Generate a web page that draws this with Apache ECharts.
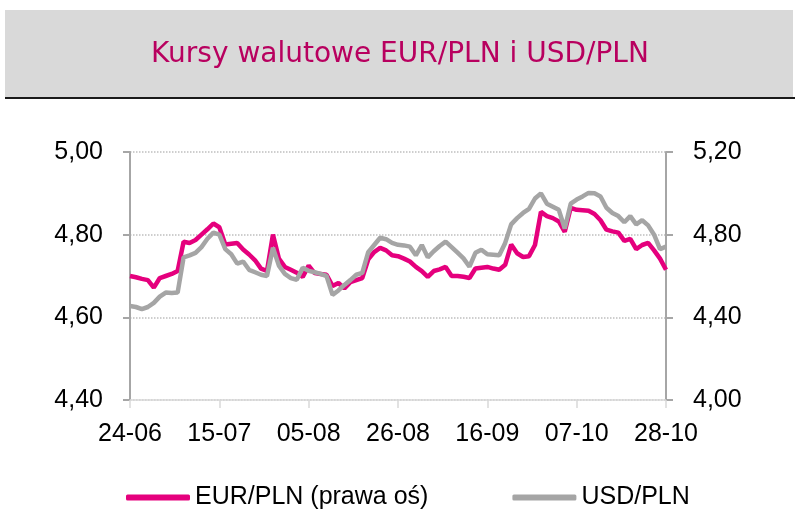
<!DOCTYPE html>
<html>
<head>
<meta charset="utf-8">
<script src="https://cdn.jsdelivr.net/npm/echarts@6/dist/echarts.min.js"></script>
<style>
  html, body { margin: 0; padding: 0; background: #fff; }
  #chart { width: 800px; height: 527px; }
</style>
</head>
<body>
<div id="chart"></div>
<script>
// dni robocze od 24-06 do 28-10
const startDate = Date.UTC(2024, 5, 24);
const dayCount = 91;
const dates = [];
for (let t = startDate; dates.length < dayCount; t += 86400000) {
  const d = new Date(t);
  const wd = d.getUTCDay();
  if (wd === 0 || wd === 6) continue;
  dates.push(String(d.getUTCDate()).padStart(2, '0') + '-' + String(d.getUTCMonth() + 1).padStart(2, '0'));
}

// EUR/PLN - lewa skala
const eurpln = [
  4.700, 4.697, 4.693, 4.690, 4.672, 4.695, 4.700, 4.705, 4.712, 4.783,
  4.780, 4.787, 4.800, 4.813, 4.827, 4.818, 4.776, 4.778, 4.780, 4.764,
  4.752, 4.738, 4.718, 4.712, 4.800, 4.742, 4.722, 4.715, 4.708, 4.698,
  4.725, 4.707, 4.705, 4.703, 4.676, 4.683, 4.670, 4.685, 4.690, 4.695,
  4.740, 4.758, 4.768, 4.762, 4.750, 4.748, 4.742, 4.735, 4.722, 4.712,
  4.698, 4.712, 4.716, 4.722, 4.700, 4.700, 4.698, 4.695, 4.718, 4.720,
  4.722, 4.718, 4.715, 4.727, 4.776, 4.755, 4.746, 4.748, 4.775, 4.855,
  4.845, 4.840, 4.832, 4.807, 4.865, 4.860, 4.859, 4.858, 4.850, 4.835,
  4.812, 4.808, 4.805, 4.785, 4.790, 4.765, 4.775, 4.780, 4.762, 4.742,
  4.715
];

// USD/PLN - prawa skala
const usdpln = [
  4.455, 4.450, 4.440, 4.450, 4.470, 4.500, 4.520, 4.518, 4.520, 4.690,
  4.700, 4.712, 4.740, 4.780, 4.810, 4.800, 4.730, 4.705, 4.660, 4.670,
  4.630, 4.618, 4.606, 4.600, 4.737, 4.650, 4.610, 4.590, 4.582, 4.640,
  4.625, 4.618, 4.610, 4.600, 4.509, 4.530, 4.557, 4.580, 4.606, 4.615,
  4.715, 4.750, 4.785, 4.778, 4.760, 4.751, 4.748, 4.742, 4.700, 4.750,
  4.690, 4.720, 4.745, 4.766, 4.740, 4.713, 4.685, 4.645, 4.712, 4.727,
  4.705, 4.703, 4.700, 4.760, 4.850, 4.880, 4.905, 4.925, 4.975, 5.000,
  4.950, 4.935, 4.920, 4.830, 4.950, 4.970, 4.985, 5.002, 5.000, 4.985,
  4.930, 4.905, 4.890, 4.860, 4.890, 4.850, 4.870, 4.845, 4.800, 4.730,
  4.742
];

const font = 'Liberation Sans';
const fmt = v => v.toFixed(2).replace('.', ',');

const myChart = echarts.init(document.getElementById('chart'));
myChart.setOption({
  animation: false,
  backgroundColor: '#fff',
  graphic: [
    { type: 'rect', z: -1, shape: { x: 5, y: 10, width: 788, height: 87 }, style: { fill: '#d9d9d9' } },
    { type: 'line', z: -1, shape: { x1: 5, y1: 98, x2: 795, y2: 98 }, style: { stroke: '#1a1a1a', lineWidth: 2 } }
  ],
  title: {
    text: 'Kursy walutowe EUR/PLN i USD/PLN',
    left: 'center',
    top: 36,
    textStyle: { fontFamily: 'DejaVu Sans', fontSize: 28, fontWeight: 'normal', color: '#b8005f' }
  },
  legend: {
    data: ['EUR/PLN (prawa oś)', 'USD/PLN'],
    left: 121,
    top: 480,
    itemWidth: 64,
    itemHeight: 6,
    itemGap: 84,
    icon: 'roundRect',
    textStyle: { fontFamily: font, fontSize: 25, color: '#000' }
  },
  grid: { left: 130, right: 134, top: 152, bottom: 127 },
  xAxis: {
    type: 'category',
    boundaryGap: false,
    data: dates,
    axisLine: { lineStyle: { color: '#d9d9d9', width: 1.5 } },
    axisTick: { interval: 14, length: 8, lineStyle: { color: '#d9d9d9', width: 1.5 } },
    axisLabel: { interval: 14, margin: 22, fontFamily: font, fontSize: 25, color: '#000' }
  },
  yAxis: [
    {
      type: 'value', min: 4.4, max: 5.0, interval: 0.2,
      axisLine: { show: true, lineStyle: { color: '#a6a6a6', width: 2 } },
      axisTick: { show: true, length: 7, lineStyle: { color: '#a6a6a6', width: 2 } },
      splitLine: { lineStyle: { color: '#bfbfbf', type: 'dotted', width: 1.5 } },
      axisLabel: { formatter: fmt, margin: 27, fontFamily: font, fontSize: 25, color: '#000' }
    },
    {
      type: 'value', min: 4.0, max: 5.2, interval: 0.4,
      axisLine: { show: true, lineStyle: { color: '#a6a6a6', width: 2 } },
      axisTick: { show: true, length: 7, lineStyle: { color: '#a6a6a6', width: 2 } },
      splitLine: { show: false },
      axisLabel: { formatter: fmt, margin: 27, fontFamily: font, fontSize: 25, color: '#000' }
    }
  ],
  series: [
    {
      name: 'EUR/PLN (prawa oś)',
      type: 'line',
      yAxisIndex: 0,
      data: eurpln,
      showSymbol: false,
      color: '#e5007d',
      lineStyle: { width: 4.5, color: '#e5007d' }
    },
    {
      name: 'USD/PLN',
      type: 'line',
      yAxisIndex: 1,
      data: usdpln,
      showSymbol: false,
      color: '#a5a5a5',
      lineStyle: { width: 4.5, color: '#a5a5a5' }
    }
  ]
});
</script>
</body>
</html>
